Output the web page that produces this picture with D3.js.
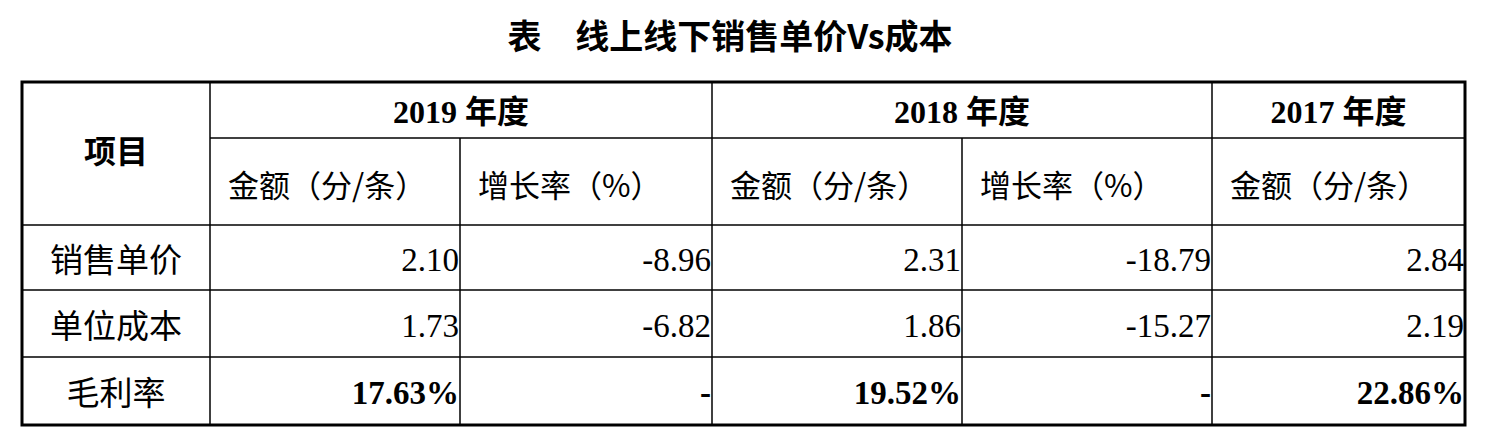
<!DOCTYPE html>
<html><head><meta charset="utf-8">
<script src="https://cdn.jsdelivr.net/npm/d3@7"></script>
<style>body{margin:0;background:#fff}</style>
</head><body>
<svg id="t" width="1487" height="437"></svg>
<script>
const title = "表\u3000线上线下销售单价Vs成本";
const years = ["2019 年度", "2018 年度", "2017 年度"];
const subHeads = ["金额（分/条）", "增长率（%）", "金额（分/条）", "增长率（%）", "金额（分/条）"];
const items = ["销售单价", "单位成本", "毛利率"];
const priceRow = ["2.10", "-8.96", "2.31", "-18.79", "2.84"];
const costRow = ["1.73", "-6.82", "1.86", "-15.27", "2.19"];
const marginRow = ["17.63%", "-", "19.52%", "-", "22.86%"];
const rows = [priceRow, costRow, marginRow];

const colEdges = [22, 210, 460, 712, 962, 1212, 1465];
const rowEdges = [82, 138, 225, 290, 357, 425];
const svg = d3.select("#t");
const serif = "'Liberation Serif','Noto Sans CJK SC',serif";
const cjk = "'Noto Sans CJK SC',sans-serif";

svg.append("text").attr("x", 730).attr("y", 34).attr("text-anchor", "middle")
  .attr("dominant-baseline", "central")
  .attr("font-family", cjk).attr("font-weight", "bold").attr("font-size", 34).text(title);

const g = svg.append("g");
function line(x1, y1, x2, y2, w) {
  g.append("line").attr("x1", x1).attr("y1", y1).attr("x2", x2).attr("y2", y2)
    .attr("stroke", "#000").attr("stroke-width", w);
}
line(colEdges[1], rowEdges[1], colEdges[6], rowEdges[1], 1.5);
rowEdges.slice(2, 5).forEach(y => line(colEdges[0], y, colEdges[6], y, 1.5));
line(colEdges[1], rowEdges[0], colEdges[1], rowEdges[5], 1.5);
[3, 5].forEach(i => line(colEdges[i], rowEdges[0], colEdges[i], rowEdges[5], 1.5));
[2, 4].forEach(i => line(colEdges[i], rowEdges[1], colEdges[i], rowEdges[5], 1.5));
g.append("rect").attr("x", colEdges[0]).attr("y", rowEdges[0])
  .attr("width", colEdges[6] - colEdges[0]).attr("height", rowEdges[5] - rowEdges[0])
  .attr("fill", "none").attr("stroke", "#000").attr("stroke-width", 3);

function txt(x, y, s, anchor, font, bold, size) {
  svg.append("text").attr("x", x).attr("y", y).attr("text-anchor", anchor)
    .attr("dominant-baseline", "central").attr("font-family", font)
    .attr("font-weight", bold ? "bold" : "normal").attr("font-size", size || 33).text(s);
}
txt((colEdges[0] + colEdges[1]) / 2, (rowEdges[0] + rowEdges[2]) / 2 - 5, "项目", "middle", cjk, true, 32);
const yearSpans = [[1, 3], [3, 5], [5, 6]];
years.forEach((y, i) => {
  const [a, b] = yearSpans[i];
  txt((colEdges[a] + colEdges[b]) / 2, (rowEdges[0] + rowEdges[1]) / 2 + 2, y, "middle", serif, true, 32);
});
subHeads.forEach((s, i) => txt(colEdges[i + 1] + 18, (rowEdges[1] + rowEdges[2]) / 2 + 2, s, "start", cjk, false, 31));
items.forEach((s, r) => txt((colEdges[0] + colEdges[1]) / 2, (rowEdges[r + 2] + rowEdges[r + 3]) / 2, s, "middle", cjk, false, 33));
rows.forEach((row, r) => row.forEach((v, c) =>
  txt(colEdges[c + 2] - 1, (rowEdges[r + 2] + rowEdges[r + 3]) / 2 + 2, v, "end", serif, r === 2, 33)));
</script>
</body></html>
